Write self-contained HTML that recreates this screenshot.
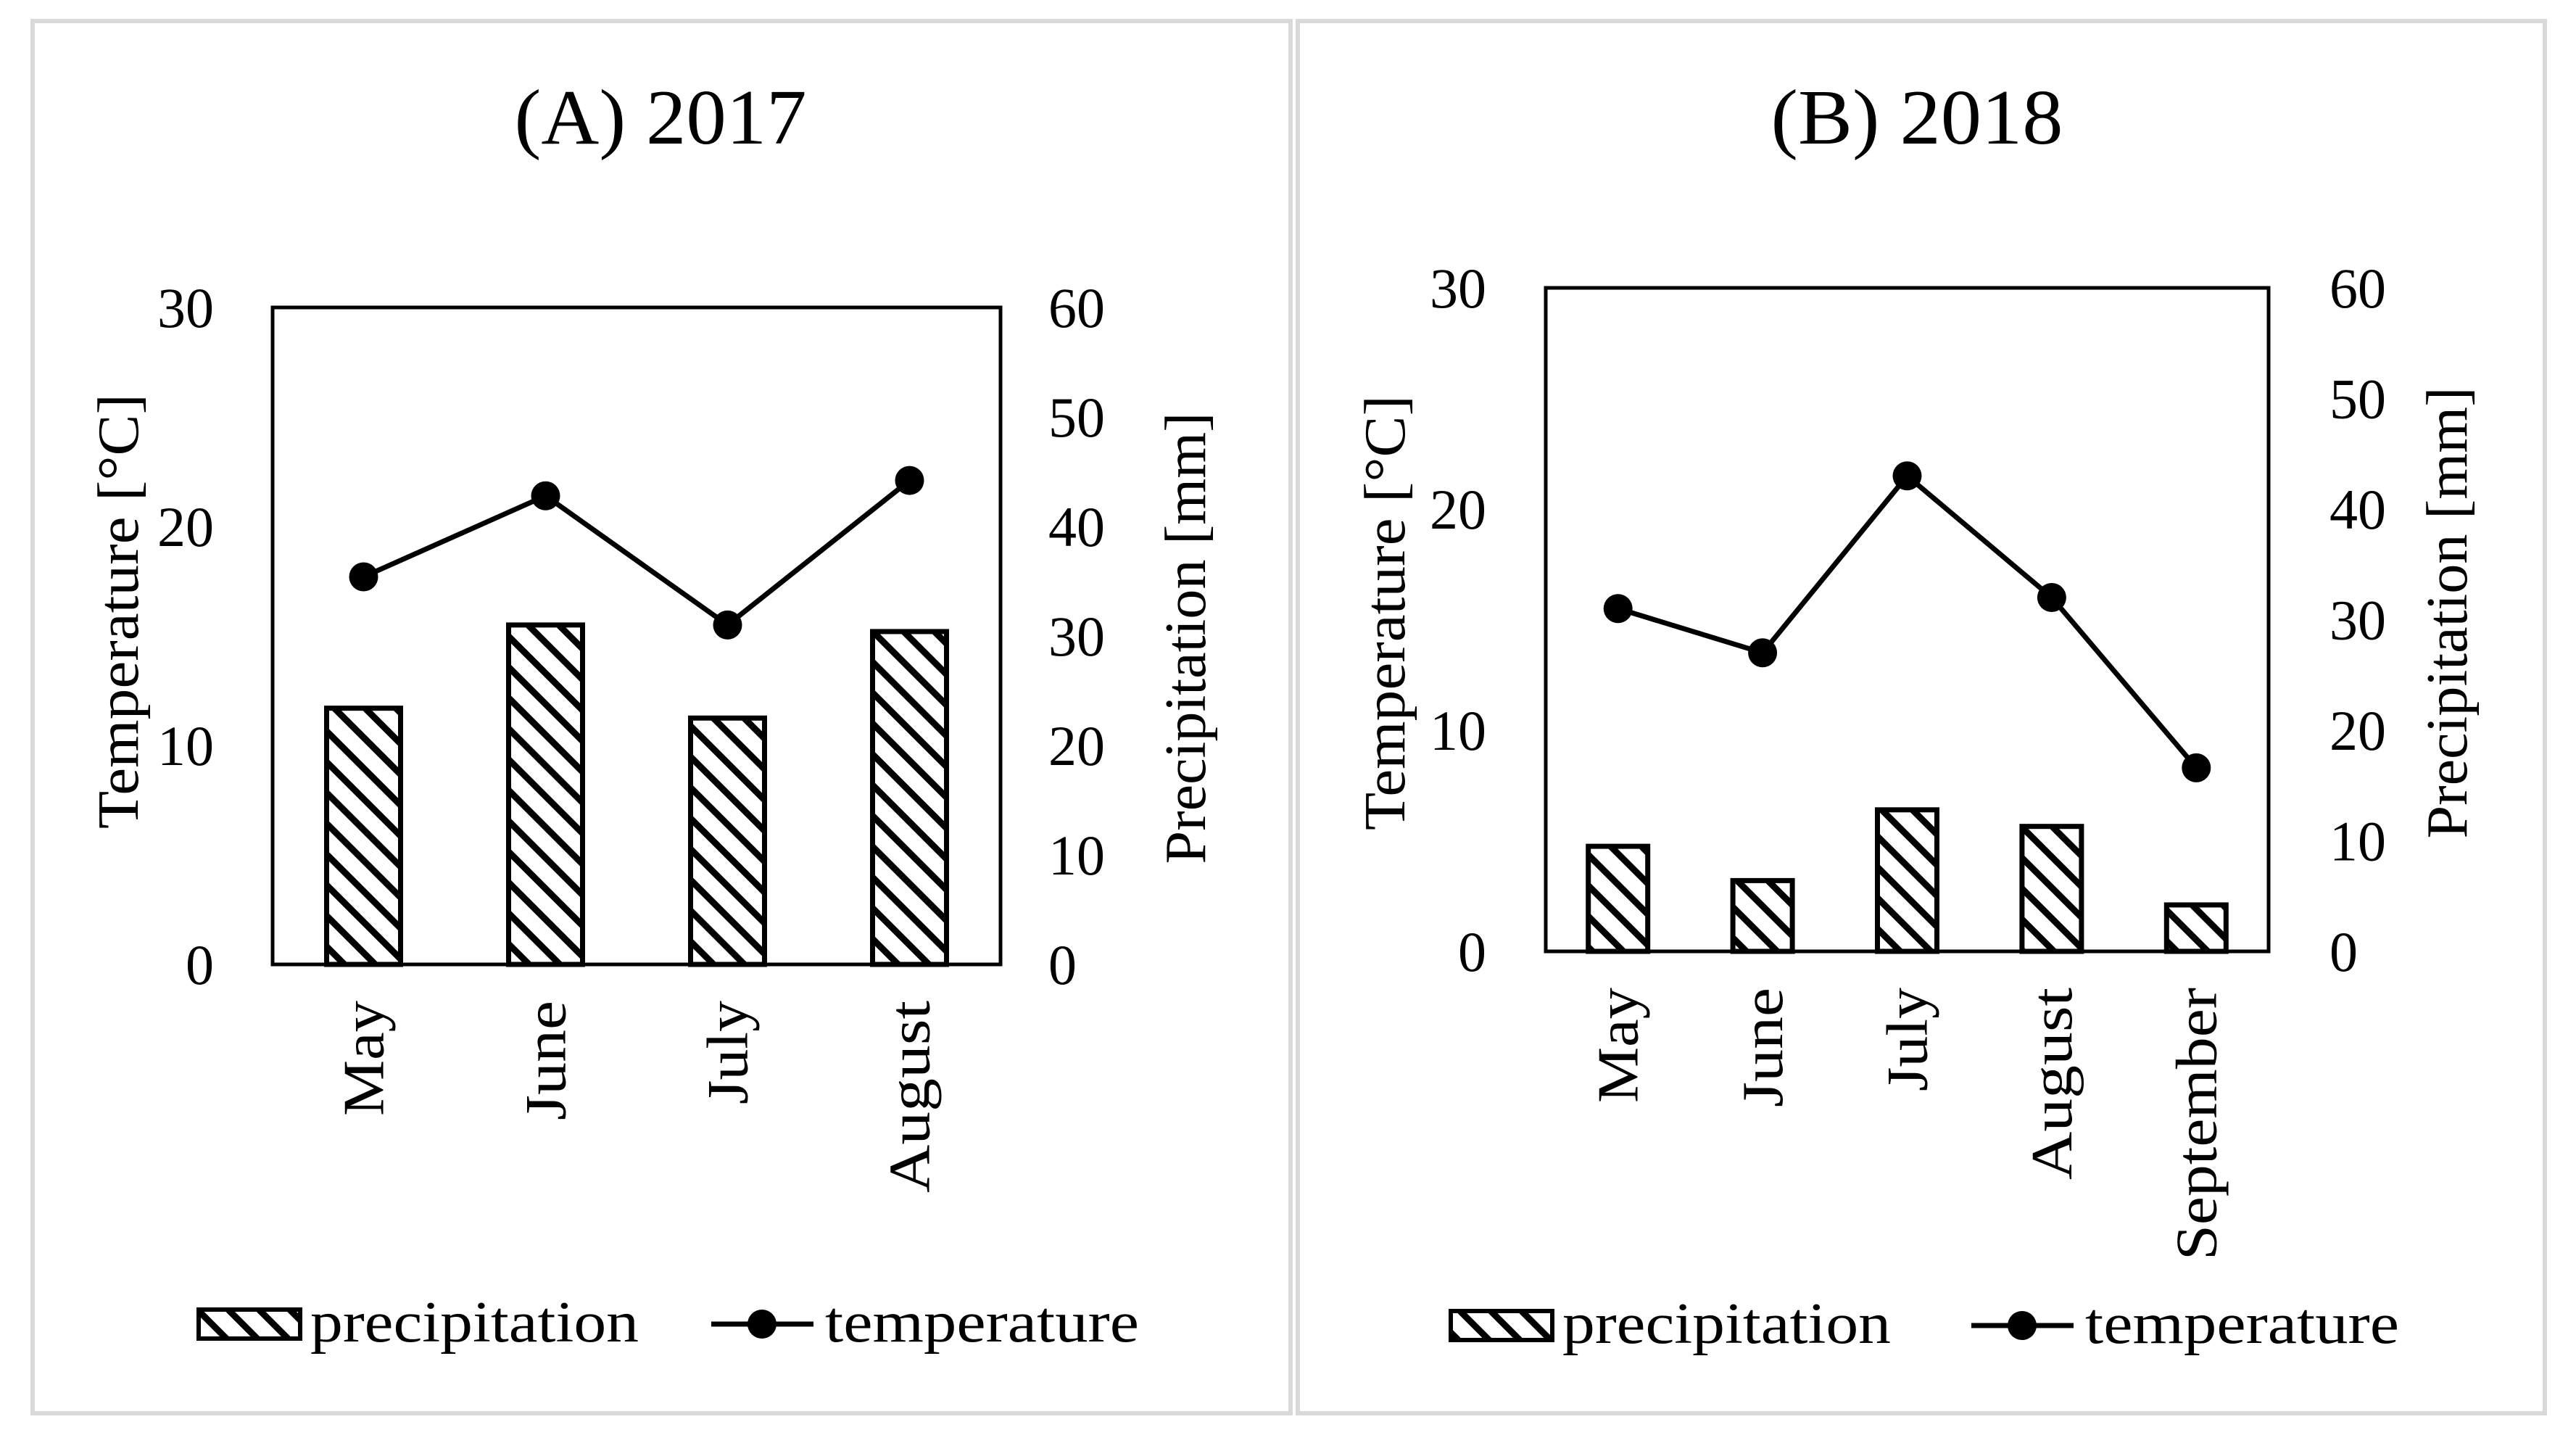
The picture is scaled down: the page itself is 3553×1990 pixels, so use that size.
<!DOCTYPE html>
<html><head><meta charset="utf-8">
<style>
html,body{margin:0;padding:0;background:#fff;}
svg{display:block;}
text{font-family:"Liberation Serif",serif;fill:#000;}
</style></head>
<body>
<svg id="chart" width="3553" height="1990" viewBox="0 0 3553 1990" xmlns="http://www.w3.org/2000/svg">
<defs>
<pattern id="hatch" patternUnits="userSpaceOnUse" width="30" height="30" patternTransform="rotate(45)">
<rect width="30" height="30" fill="#fff"/>
<rect x="0" y="0" width="30" height="9" fill="#000"/>
</pattern>
</defs>
<rect x="45" y="29" width="1735" height="1920" fill="none" stroke="#d9d9d9" stroke-width="6"/>
<rect x="1790" y="29" width="1720" height="1920" fill="none" stroke="#d9d9d9" stroke-width="6"/>
</svg>
<script>
const monthsA = ["May","June","July","August"];
const precipA = [23.4,31.0,22.5,30.4];
const tempA = [17.7,21.4,15.5,22.1];
const monthsB = ["May","June","July","August","September"];
const precipB = [9.5,6.4,12.8,11.3,4.2];
const tempB = [15.5,13.5,21.5,16.0,8.3];
const leftTicks = [0,10,20,30];
const rightTicks = [0,10,20,30,40,50,60];

const NS="http://www.w3.org/2000/svg";
const svg=document.getElementById('chart');
const widthFor={"May":159,"June":165,"July":143,"August":265,"September":376};
function mk(tag,attrs,parent){const e=document.createElementNS(NS,tag);for(const k in attrs)e.setAttribute(k,attrs[k]);(parent||svg).appendChild(e);return e;}

function panel(cfg){
  const g=mk('g',{});
  
  
  const {L,R,T,B}=cfg;
  const band=(R-L)/cfg.cats.length;
  const xC=i=>L+band*(i+0.5);
  const yT=v=>B-(v/30)*(B-T);
  const yP=v=>B-(v/60)*(B-T);
  let t=mk('text',{x:cfg.titleX,y:cfg.titleY,'font-size':108,'text-anchor':'middle',textLength:403,lengthAdjust:'spacingAndGlyphs'},g);t.textContent=cfg.title;
  
  
  cfg.precip.forEach((v,i)=>{
    const r=mk('rect',{x:xC(i)-cfg.bw/2,y:yP(v),width:cfg.bw,height:B-yP(v),fill:'url(#hatch)',stroke:'#000','stroke-width':7},g);
    
    
  });
  const box=mk('rect',{x:L,y:T,width:R-L,height:B-T,fill:'none',stroke:'#000','stroke-width':5},g);
  
  
  const pts=cfg.temp.map((v,i)=>xC(i)+','+yT(v)).join(' ');
  const pl=mk('polyline',{points:pts,fill:'none',stroke:'#000','stroke-width':7},g);
  
  
  cfg.temp.forEach((v,i)=>{
    const c=mk('circle',{cx:xC(i),cy:yT(v),r:20,fill:'#000'},g);
    
    
  });
  leftTicks.forEach(v=>{
    const e=mk('text',{x:cfg.lx,y:yT(v)+27,'font-size':78,'text-anchor':'end'},g);e.textContent=v;
    
    
  });
  rightTicks.forEach(v=>{
    const e=mk('text',{x:cfg.rx,y:yP(v)+27,'font-size':78,'text-anchor':'start'},g);e.textContent=v;
    
    
  });
  cfg.cats.forEach((c,i)=>{
    const e=mk('text',{x:0,y:0,'font-size':80,'text-anchor':'end',textLength:widthFor[c],lengthAdjust:'spacingAndGlyphs',transform:`translate(${xC(i)+27},${B+50}) rotate(-90)`},g);e.textContent=c;
    
    
  });
  let yl=mk('text',{x:0,y:0,'font-size':80,'text-anchor':'middle',textLength:600,lengthAdjust:'spacingAndGlyphs',transform:`translate(${cfg.ytx},${cfg.yty}) rotate(-90)`},g);yl.textContent="Temperature [°C]";
  
  
  let yr=mk('text',{x:0,y:0,'font-size':80,'text-anchor':'middle',textLength:623,lengthAdjust:'spacingAndGlyphs',transform:`translate(${cfg.rtx},${cfg.rty}) rotate(-90)`},g);yr.textContent="Precipitation [mm]";
  
  
  const lg=mk('g',{},g);
  
  
  const lb=mk('rect',{x:cfg.legX,y:cfg.legY-20,width:140,height:40,fill:'url(#hatch)',stroke:'#000','stroke-width':6},lg);
  
  
  let lt=mk('text',{x:cfg.legX+154,y:cfg.legY+24,'font-size':80,textLength:453,lengthAdjust:'spacingAndGlyphs'},lg);lt.textContent="precipitation";
  
  
  const ln=mk('line',{x1:cfg.leg2X,y1:cfg.legY,x2:cfg.leg2X+141,y2:cfg.legY,stroke:'#000','stroke-width':7},lg);
  
  
  const lc=mk('circle',{cx:cfg.leg2X+70,cy:cfg.legY,r:20,fill:'#000'},lg);
  
  
  let lt2=mk('text',{x:cfg.leg2X+157,y:cfg.legY+24,'font-size':80,textLength:433,lengthAdjust:'spacingAndGlyphs'},lg);lt2.textContent="temperature";
  
  
}
panel({id:'panel-a',title:'(A) 2017',titleX:911,titleY:198,L:376,R:1380,T:424,B:1330,bw:102,cats:monthsA,precip:precipA,temp:tempA,
  lx:295,rx:1446,ytx:190,yty:843,rtx:1662,rty:880,legX:274,legY:1826,leg2X:981});
panel({id:'panel-b',title:'(B) 2018',titleX:2644,titleY:198,L:2132,R:3129,T:397,B:1312,bw:82,cats:monthsB,precip:precipB,temp:tempB,
  lx:2050,rx:3213,ytx:1937,yty:845,rtx:3402,rty:845,legX:2001,legY:1828,leg2X:2719});
</script>
</body></html>
